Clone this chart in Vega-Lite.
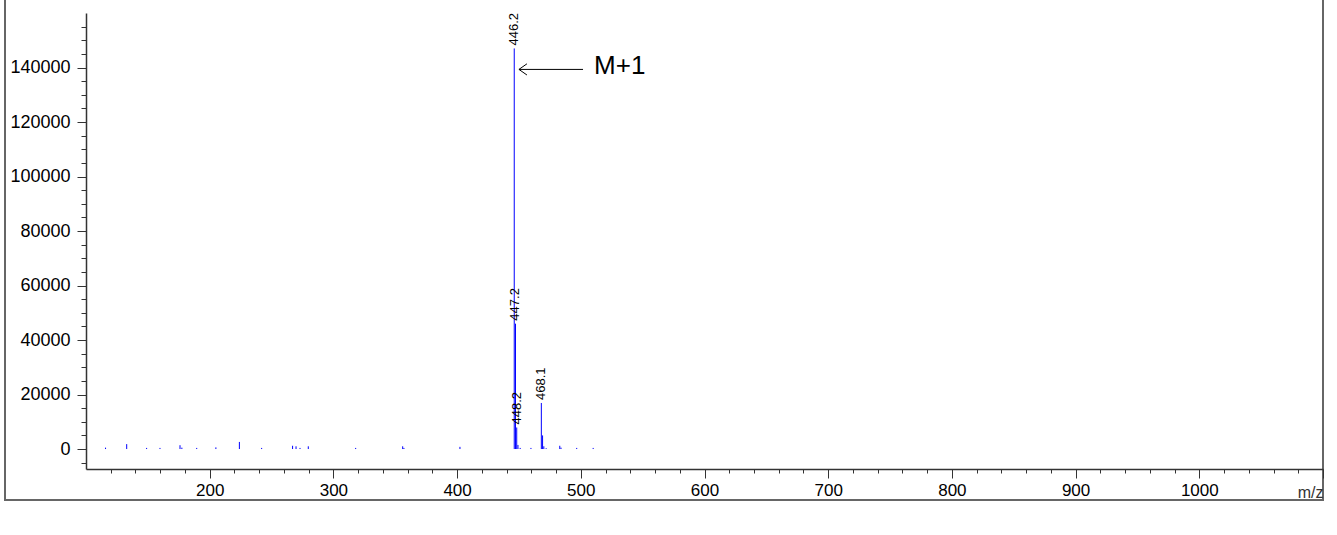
{
  "$schema": "https://vega.github.io/schema/vega-lite/v6.json",
  "width": 1318,
  "height": 502,
  "autosize": {"type": "none"},
  "padding": {"left": 5, "top": -2, "right": 14, "bottom": 35},
  "background": "white",
  "config": {
    "font": "Liberation Sans",
    "view": {"stroke": "#666666", "strokeWidth": 2},
    "axis": {"labelOverlap": false, "labelBound": false, "labelFlush": false}
  },
  "datasets": {
    "peaks": [
      {"mz": 115.8, "intensity": 500, "label": null},
      {"mz": 132.9, "intensity": 1800, "label": null},
      {"mz": 149.0, "intensity": 400, "label": null},
      {"mz": 159.8, "intensity": 400, "label": null},
      {"mz": 176.0, "intensity": 1400, "label": null},
      {"mz": 177.5, "intensity": 500, "label": null},
      {"mz": 189.5, "intensity": 400, "label": null},
      {"mz": 205.0, "intensity": 600, "label": null},
      {"mz": 224.0, "intensity": 2600, "label": null},
      {"mz": 242.0, "intensity": 400, "label": null},
      {"mz": 267.0, "intensity": 1200, "label": null},
      {"mz": 269.8, "intensity": 1000, "label": null},
      {"mz": 273.0, "intensity": 400, "label": null},
      {"mz": 279.7, "intensity": 1000, "label": null},
      {"mz": 318.0, "intensity": 400, "label": null},
      {"mz": 356.0, "intensity": 1000, "label": null},
      {"mz": 357.0, "intensity": 400, "label": null},
      {"mz": 402.3, "intensity": 800, "label": null},
      {"mz": 446.2, "intensity": 147000, "label": "446.2"},
      {"mz": 447.2, "intensity": 46000, "label": "447.2"},
      {"mz": 448.2, "intensity": 7900, "label": "448.2"},
      {"mz": 449.2, "intensity": 1500, "label": null},
      {"mz": 451.0, "intensity": 400, "label": null},
      {"mz": 459.7, "intensity": 400, "label": null},
      {"mz": 468.1, "intensity": 16900, "label": "468.1"},
      {"mz": 469.1, "intensity": 5000, "label": null},
      {"mz": 470.1, "intensity": 1000, "label": null},
      {"mz": 472.0, "intensity": 300, "label": null},
      {"mz": 483.0, "intensity": 1200, "label": null},
      {"mz": 484.0, "intensity": 500, "label": null},
      {"mz": 496.7, "intensity": 400, "label": null},
      {"mz": 510.0, "intensity": 400, "label": null}
    ],
    "arrow": [
      {"mz": 450.0, "mz2": 501.8, "intensity": 139300}
    ],
    "note": [
      {"mz": 510.7, "intensity": 140500, "label": "M+1"}
    ]
  },
  "layer": [
    {
      "data": {"name": "peaks"},
      "mark": {"type": "rule", "color": "#0000ff", "strokeWidth": 1},
      "encoding": {
        "x": {
          "field": "mz",
          "type": "quantitative",
          "scale": {"domain": [100, 1100], "range": [81, 1318], "nice": false, "zero": false},
          "axis": {
            "values": [120, 140, 160, 180, 200, 220, 240, 260, 280, 300, 320, 340, 360, 380, 400, 420, 440, 460, 480, 500, 520, 540, 560, 580, 600, 620, 640, 660, 680, 700, 720, 740, 760, 780, 800, 820, 840, 860, 880, 900, 920, 940, 960, 980, 1000, 1020, 1040, 1060, 1080, 1100],
            "tickCount": 500,
            "format": "d",
            "labelExpr": "datum.value % 100 === 0 && datum.value < 1100 ? datum.label : ''",
            "tickSize": {"condition": {"test": "datum.value % 100 === 0", "value": 9}, "value": 4},
            "offset": -31,
            "grid": false,
            "domainColor": "#333333",
            "tickColor": "#333333",
            "domainWidth": 1.5,
            "tickWidth": 1,
            "labelFontSize": 17,
            "labelColor": "#000000",
            "labelPadding": 4,
            "labelFlush": false,
            "labelOverlap": false,
            "title": "m/z",
            "titleFontSize": 16,
            "titleFontWeight": "normal",
            "titleColor": "#333333",
            "titleAnchor": "end",
            "titleAlign": "right",
            "titleBaseline": "alphabetic",
            "titleX": 1318,
            "titleY": 28
          }
        },
        "y": {
          "field": "intensity",
          "type": "quantitative",
          "scale": {"domain": [-7330, 160000], "range": [471, 15], "nice": false, "zero": false},
          "axis": {
            "values": [-5000, 0, 5000, 10000, 15000, 20000, 25000, 30000, 35000, 40000, 45000, 50000, 55000, 60000, 65000, 70000, 75000, 80000, 85000, 90000, 95000, 100000, 105000, 110000, 115000, 120000, 125000, 130000, 135000, 140000, 145000, 150000, 155000],
            "tickCount": 500,
            "format": "d",
            "labelExpr": "datum.value % 20000 === 0 ? datum.label : ''",
            "tickSize": {"condition": {"test": "datum.value % 20000 === 0", "value": 9}, "value": 5},
            "offset": -81,
            "grid": false,
            "domainColor": "#333333",
            "tickColor": "#333333",
            "domainWidth": 1.5,
            "tickWidth": 1,
            "labelFontSize": 18,
            "labelColor": "#000000",
            "labelPadding": 7,
            "labelOverlap": false,
            "title": null
          }
        },
        "y2": {"datum": 0}
      }
    },
    {
      "data": {"name": "peaks"},
      "transform": [{"filter": "datum.label != null"}],
      "mark": {"type": "text", "angle": 270, "align": "left", "baseline": "middle", "dx": 3, "fontSize": 13, "color": "#000000"},
      "encoding": {
        "x": {"field": "mz", "type": "quantitative"},
        "y": {"field": "intensity", "type": "quantitative"},
        "text": {"field": "label"}
      }
    },
    {
      "data": {"name": "arrow"},
      "mark": {"type": "rule", "color": "#000000", "strokeWidth": 1},
      "encoding": {
        "x": {"field": "mz", "type": "quantitative"},
        "x2": {"field": "mz2"},
        "y": {"field": "intensity", "type": "quantitative"}
      }
    },
    {
      "data": {"name": "arrow"},
      "mark": {"type": "point", "shape": "M1,-0.7L0,0L1,0.7", "size": 256, "filled": false, "stroke": "#000000", "strokeWidth": 1, "opacity": 1},
      "encoding": {
        "x": {"field": "mz", "type": "quantitative"},
        "y": {"field": "intensity", "type": "quantitative"}
      }
    },
    {
      "data": {"name": "note"},
      "mark": {"type": "text", "align": "left", "baseline": "middle", "fontSize": 26, "color": "#000000"},
      "encoding": {
        "x": {"field": "mz", "type": "quantitative"},
        "y": {"field": "intensity", "type": "quantitative"},
        "text": {"field": "label"}
      }
    }
  ]
}
